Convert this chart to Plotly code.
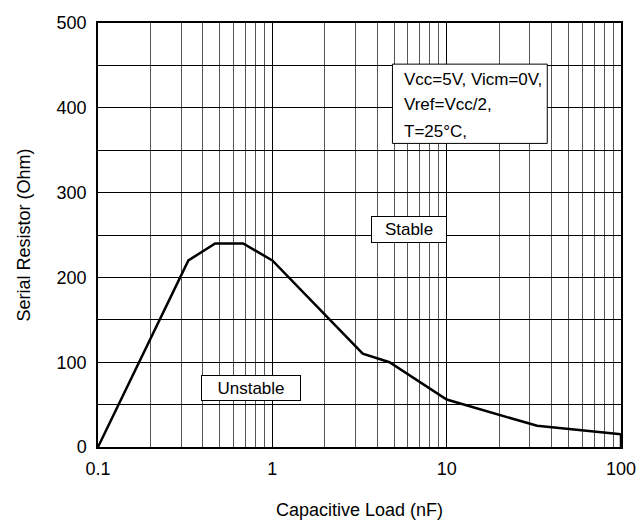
import plotly.graph_objects as go

# curve: serial resistor vs capacitive load
cap_load_nf = [0.1, 0.33, 0.47, 0.68, 1.0, 3.3, 4.7, 10, 33, 100, 100]
serial_res_ohm = [0, 220, 240, 240, 220, 110, 100, 56, 25, 15, 0]

x_ticks = [0.1, 1, 10, 100]
x_tick_text = ["0.1", "1", "10", "100"]
y_ticks = [0, 100, 200, 300, 400, 500]

cond_lines = ["Vcc=5V, Vicm=0V,", "Vref=Vcc/2,", "T=25°C,"]

FONT = "Liberation Sans, Arial, sans-serif"

x_minor = [m * 10 ** e for e in (-1, 0, 1) for m in range(2, 10)]

fig = go.Figure()
fig.add_trace(go.Scatter(
    x=cap_load_nf, y=serial_res_ohm, mode="lines",
    line=dict(color="black", width=2.5), showlegend=False, hoverinfo="x+y",
))

fig.update_layout(
    width=636, height=523,
    margin=dict(l=98, r=15, t=23, b=76, autoexpand=False),
    paper_bgcolor="white", plot_bgcolor="white",
    font=dict(family=FONT, color="black", size=18),
    xaxis=dict(
        type="log", range=[-1, 2],
        tickvals=x_ticks, ticktext=x_tick_text,
        showgrid=True, gridcolor="black", gridwidth=1,
        minor=dict(tickvals=x_minor, showgrid=True, gridcolor="#555555", gridwidth=1),
        showline=True, linecolor="black", linewidth=1.5, mirror=True,
        ticks="", ticklabelstandoff=5, ticklabeloverflow="allow",
        tickfont=dict(size=18),
        title=dict(text="Capacitive Load (nF)", font=dict(size=18), standoff=25),
        zeroline=False,
    ),
    yaxis=dict(
        range=[0, 500], tickvals=y_ticks,
        showgrid=True, gridcolor="black", gridwidth=1,
        minor=dict(dtick=50, showgrid=True, gridcolor="black", gridwidth=1),
        showline=True, linecolor="black", linewidth=1.5, mirror=True,
        ticks="", ticklabelstandoff=6, ticklabeloverflow="allow",
        tickfont=dict(size=18),
        title=dict(text="Serial Resistor (Ohm)", font=dict(size=18), standoff=21),
        zeroline=False,
    ),
)

# condition box
fig.add_shape(type="rect", xref="paper", yref="paper",
              x0=0.563, x1=0.859, y0=0.716, y1=0.903,
              line=dict(color="black", width=1), fillcolor="white", layer="above")
for txt, yy in zip(cond_lines, [0.866, 0.807, 0.745]):
    fig.add_annotation(text=txt, xref="paper", yref="paper", x=0.582, y=yy,
                       xanchor="left", yanchor="middle", showarrow=False,
                       font=dict(size=17))

# region labels
fig.add_annotation(text="Stable", xref="paper", yref="paper", x=0.594, y=0.513,
                   xanchor="center", yanchor="middle",
                   showarrow=False, font=dict(size=17), bgcolor="white",
                   bordercolor="black", borderwidth=1, borderpad=3,
                   width=68, height=19)
fig.add_annotation(text="Unstable", xref="paper", yref="paper", x=0.2925, y=0.139,
                   xanchor="center", yanchor="middle",
                   showarrow=False, font=dict(size=17), bgcolor="white",
                   bordercolor="black", borderwidth=1, borderpad=3,
                   width=92, height=18)

# drop the default 8px body margin so the figure fills the window
fig.write_html("out.html", config={"displayModeBar": False},
               post_script="document.body.style.margin='0px';")
